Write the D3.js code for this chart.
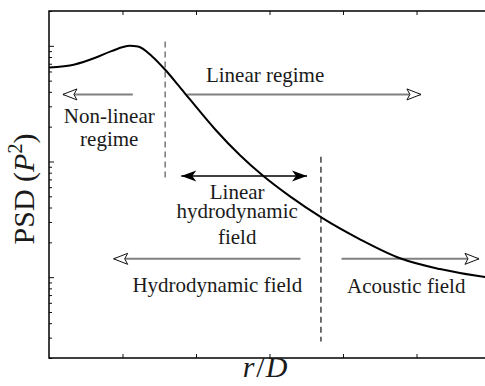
<!DOCTYPE html>
<html>
<head>
<meta charset="utf-8">
<script src="https://cdn.jsdelivr.net/npm/d3@7"></script>
<style>
  html, body { margin: 0; padding: 0; background: #fff; }
  svg { display: block; }
</style>
</head>
<body>
<svg id="chart" width="485" height="386"></svg>
<script>
// PSD spectrum along r/D (log PSD axis, no tick labels)
const rD  = [0, 0.35, 0.63, 0.85, 1.10, 1.21, 1.40, 1.578, 1.755, 1.918, 2.259, 2.599, 2.916, 3.279, 3.710, 4.231, 4.776, 5.320, 5.932, 6.0];
const psd = [0.650, 0.690, 0.788, 0.899, 1.0, 0.985, 0.814, 0.624, 0.460, 0.344, 0.190, 0.1131, 0.0748, 0.0499, 0.0327, 0.02125, 0.01456, 0.01174, 0.01003, 0.00991];

const xTicks = [1, 2, 3, 4, 5];
const yMajorTicks = [0.01, 0.1, 1];

// region boundaries (dashed): r/D position and vertical extent in PSD
const boundX   = [1.58, 3.70];
const boundTop = [1.09, 0.110];
const boundBot = [0.0698, 0.00278];
const boundColor = ["#555", "#111"];

// single-headed region arrows: tail, tip, level
const arrowTail  = [1.14, 1.88, 3.42, 3.98];
const arrowTip   = [0.19, 5.06, 0.88, 5.85];
const arrowLevel = [0.38, 0.38, 0.0144, 0.0144];

// double-headed arrow for the linear hydrodynamic field
const dblFrom = 1.80, dblTo = 3.51, dblLevel = 0.075;

// annotation texts
const labelText = ["Linear regime", "Non-linear", "regime", "Linear", "hydrodynamic", "field", "Hydrodynamic field", "Acoustic field"];
const labelX    = [2.94, 0.82, 0.82, 2.56, 2.56, 2.56, 2.29, 4.86];
const labelY    = [0.482, 0.216, 0.1356, 0.0475, 0.0325, 0.0192, 0.0074, 0.0073];

const serif = "'Liberation Serif', 'Times New Roman', 'DejaVu Serif', serif";
const svg = d3.select("#chart");
const mLeft = 49, mTop = 11, mBottom = 358, mRight = 490;

const x = d3.scaleLinear().domain([0, 6]).range([mLeft, mRight]);
const y = d3.scaleLog().domain([0.002, 2]).range([mBottom, mTop]);

const defs = svg.append("defs");
defs.append("clipPath").attr("id", "plotClip")
  .append("rect").attr("x", mLeft).attr("y", mTop).attr("width", mRight - mLeft).attr("height", mBottom - mTop);

// open (white) arrowhead
defs.append("marker").attr("id", "openHead")
  .attr("viewBox", "-15 -7 17 14").attr("refX", 0).attr("refY", 0)
  .attr("markerWidth", 17).attr("markerHeight", 14)
  .attr("markerUnits", "userSpaceOnUse").attr("orient", "auto")
  .append("path").attr("d", "M0,0 L-14,-5.5 L-11,0 L-14,5.5 Z")
  .attr("fill", "#fff").attr("stroke", "#111").attr("stroke-width", 1).attr("stroke-linejoin", "miter");

// filled black arrowhead
defs.append("marker").attr("id", "fillHead")
  .attr("viewBox", "-17 -7 19 14").attr("refX", 0).attr("refY", 0)
  .attr("markerWidth", 19).attr("markerHeight", 14)
  .attr("markerUnits", "userSpaceOnUse").attr("orient", "auto-start-reverse")
  .append("path").attr("d", "M0,0 L-15,-5.5 L-11,0 L-15,5.5 Z")
  .attr("fill", "#000").attr("stroke", "none");

// axes: ticks only, pointing inward
svg.append("g").attr("transform", `translate(0,${mBottom})`)
  .call(d3.axisBottom(x).tickValues(xTicks).tickSize(-4).tickFormat(""))
  .call(g => g.select(".domain").remove());
svg.append("g").attr("transform", `translate(0,${mTop})`)
  .call(d3.axisTop(x).tickValues(xTicks).tickSize(-4).tickFormat(""))
  .call(g => g.select(".domain").remove());
const minorVals = y.ticks().filter(v => !yMajorTicks.some(m => Math.abs(m - v) / m < 1e-6));
svg.append("g").attr("transform", `translate(${mLeft},0)`)
  .call(d3.axisLeft(y).tickValues(yMajorTicks).tickSize(-5).tickFormat(""))
  .call(g => g.select(".domain").remove());
svg.append("g").attr("transform", `translate(${mLeft},0)`)
  .call(d3.axisLeft(y).tickValues(minorVals).tickSize(-3).tickFormat(""))
  .call(g => g.select(".domain").remove());
svg.selectAll(".tick line").attr("stroke", "#111").attr("stroke-width", 1);

// plot frame
svg.append("rect").attr("x", mLeft).attr("y", mTop)
  .attr("width", mRight - mLeft).attr("height", mBottom - mTop)
  .attr("fill", "none").attr("stroke", "#000").attr("stroke-width", 1.5);

const plot = svg.append("g").attr("clip-path", "url(#plotClip)");

// dashed boundaries
plot.selectAll("line.bound").data(boundX).join("line").attr("class", "bound")
  .attr("x1", d => x(d)).attr("x2", d => x(d))
  .attr("y1", (d, i) => y(boundTop[i])).attr("y2", (d, i) => y(boundBot[i]))
  .attr("stroke", (d, i) => boundColor[i]).attr("stroke-width", 1.2)
  .attr("stroke-dasharray", "6,4");

// gray region arrows
plot.selectAll("line.region").data(arrowTail).join("line").attr("class", "region")
  .attr("x1", d => x(d)).attr("x2", (d, i) => x(arrowTip[i]))
  .attr("y1", (d, i) => y(arrowLevel[i])).attr("y2", (d, i) => y(arrowLevel[i]))
  .attr("stroke", "#808080").attr("stroke-width", 2)
  .attr("marker-end", "url(#openHead)");

// double arrow
plot.append("line")
  .attr("x1", x(dblFrom)).attr("x2", x(dblTo))
  .attr("y1", y(dblLevel)).attr("y2", y(dblLevel))
  .attr("stroke", "#000").attr("stroke-width", 1.5)
  .attr("marker-start", "url(#fillHead)").attr("marker-end", "url(#fillHead)");

// PSD curve
const data = rD.map((r, i) => ({ r, p: psd[i] }));
plot.append("path").datum(data)
  .attr("d", d3.line().x(d => x(d.r)).y(d => y(d.p)).curve(d3.curveMonotoneX))
  .attr("fill", "none").attr("stroke", "#000").attr("stroke-width", 2);

// annotation labels
svg.selectAll("text.note").data(labelText).join("text").attr("class", "note")
  .attr("x", (d, i) => x(labelX[i])).attr("y", (d, i) => y(labelY[i]))
  .attr("text-anchor", "middle").attr("font-size", 21)
  .attr("font-family", serif).attr("fill", "#1a1a1a")
  .text(d => d);

// axis titles
const yt = svg.append("text").attr("transform", "translate(34,189) rotate(-90)")
  .attr("text-anchor", "middle").attr("font-size", 30)
  .attr("font-family", serif).attr("fill", "#1a1a1a");
yt.append("tspan").text("PSD (");
yt.append("tspan").attr("font-style", "italic").text("P");
yt.append("tspan").attr("font-size", 20).attr("dy", -12).text("2");
yt.append("tspan").attr("dy", 12).text(")");

const xt = svg.append("text").attr("x", 265).attr("y", 377)
  .attr("text-anchor", "middle").attr("font-size", 30)
  .attr("font-family", serif).attr("fill", "#1a1a1a");
xt.append("tspan").attr("font-style", "italic").text("r");
xt.append("tspan").attr("dx", 2).text("/");
xt.append("tspan").attr("dx", 1).attr("font-style", "italic").text("D");
</script>
</body>
</html>
